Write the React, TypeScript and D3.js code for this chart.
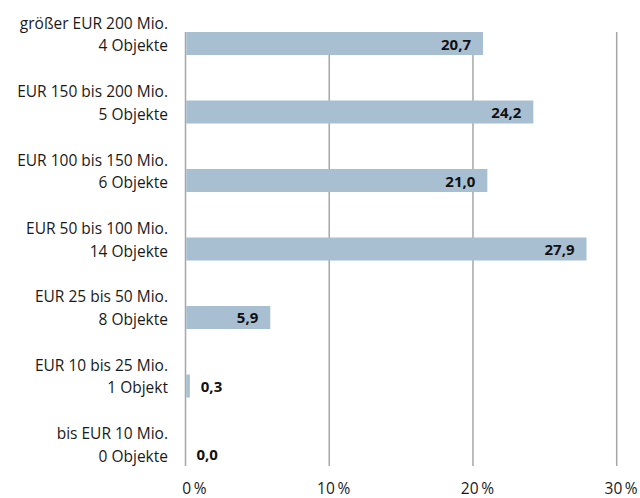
import React from "react";
import * as d3 from "d3";

const categoryLine1 = [
  "größer EUR 200 Mio.",
  "EUR 150 bis 200 Mio.",
  "EUR 100 bis 150 Mio.",
  "EUR 50 bis 100 Mio.",
  "EUR 25 bis 50 Mio.",
  "EUR 10 bis 25 Mio.",
  "bis EUR 10 Mio.",
];
const categoryLine2 = [
  "4 Objekte",
  "5 Objekte",
  "6 Objekte",
  "14 Objekte",
  "8 Objekte",
  "1 Objekt",
  "0 Objekte",
];
const values = [20.7, 24.2, 21.0, 27.9, 5.9, 0.3, 0.0];
const ticks = [0, 10, 20, 30];

const W = 640;
const H = 498;
const FONT = "'Open Sans', sans-serif";

export default function App() {
  const x = d3.scaleLinear().domain([0, 30]).range([185.5, 616.7]);
  const y = d3
    .scaleBand<number>()
    .domain(d3.range(values.length))
    .range([32, 466])
    .paddingInner(0.664)
    .paddingOuter(0);
  const bw = y.bandwidth();
  const fmt = (v: number) => v.toFixed(1).replace(".", ",");

  return (
    <svg
      width={W}
      height={H}
      style={{ position: "absolute", left: 0, top: 0, background: "#fff" }}
      fontFamily={FONT}
    >
      {ticks.map((t) => (
        <line
          key={"g" + t}
          x1={x(t)}
          x2={x(t)}
          y1={32}
          y2={466}
          stroke="#a6a6a6"
          strokeWidth={1.5}
        />
      ))}
      {values.map((v, i) => {
        const yc = (y(i) as number) + bw / 2;
        const inside = v > 3;
        return (
          <g key={i}>
            <rect
              x={x(0) + 0.75}
              y={y(i)}
              width={Math.max(0, x(v) - x(0) - 0.75)}
              height={bw}
              fill="#a8bfd2"
            />
            <text
              x={inside ? x(v) - 12 : x(v) + 11}
              y={yc + 6}
              textAnchor={inside ? "end" : "start"}
              fontWeight="bold"
              fontSize={15}
              fill="#111"
            >
              {fmt(v)}
            </text>
            <text x={168} y={yc + 7.5 - 22.5} textAnchor="end" fontSize={15.5} fill="#1a1a1a">
              {categoryLine1[i]}
            </text>
            <text x={168} y={yc + 7.5} textAnchor="end" fontSize={15.5} fill="#1a1a1a">
              {categoryLine2[i]}
            </text>
          </g>
        );
      })}
      {ticks.map((t) => (
        <text
          key={"t" + t}
          x={x(t) + 21}
          y={494}
          textAnchor="end"
          fontSize={15.5}
          fill="#1a1a1a"
        >
          {t + "\u2009%"}
        </text>
      ))}
    </svg>
  );
}
